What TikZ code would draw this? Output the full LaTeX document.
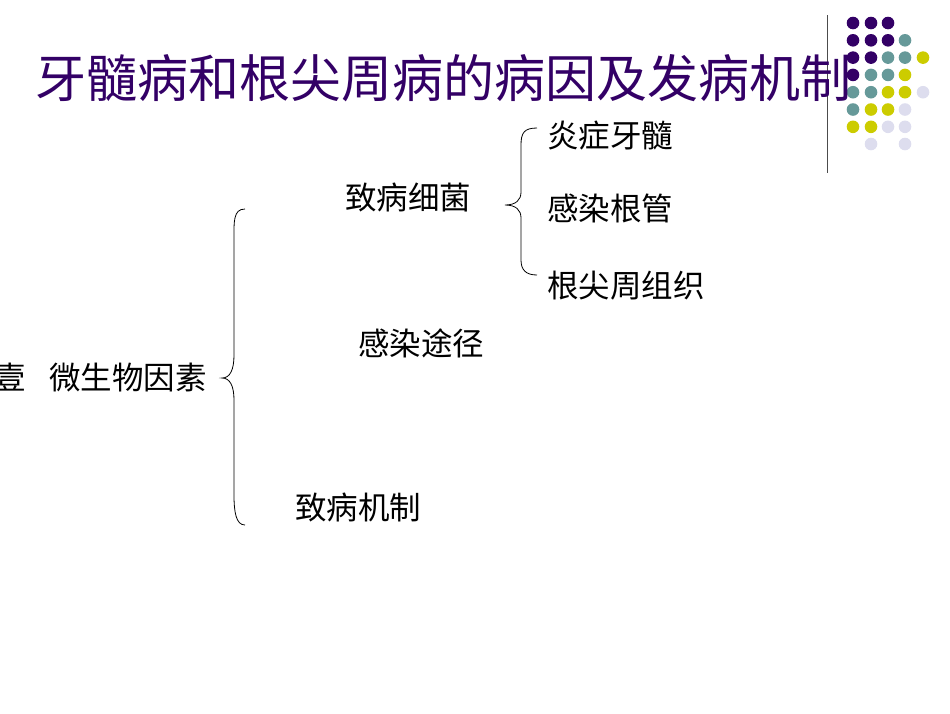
\documentclass[tikz,border=0pt]{standalone}
\usepackage{fontspec}
\newfontfamily\cjk{Noto Sans CJK SC}
\definecolor{pp}{HTML}{330066}
\definecolor{tl}{HTML}{669999}
\definecolor{yl}{HTML}{CCCC00}
\definecolor{lv}{HTML}{DDDDEE}
\begin{document}
\begin{tikzpicture}[x=1pt,y=-1pt,
  lbl/.style={font=\cjk\fontsize{31.5}{34}\selectfont,anchor=west,inner sep=0},
  br/.style={draw=black,line width=0.8pt}]
\useasboundingbox (0,0) rectangle (950,713);
\draw[line width=0.8pt,black!70] (827,15) -- (827,173);
\def\cx{{853,871,888,905,923}}
\foreach \r/\row in {0/{pp,pp,pp},1/{pp,pp,pp,tl},2/{pp,pp,tl,tl,yl},3/{pp,tl,tl,yl},4/{tl,tl,yl,yl,lv},5/{tl,yl,yl,lv},6/{yl,yl,lv,lv}}{
  \foreach \c [count=\i from 0] in \row {
    \pgfmathsetmacro\xx{\cx[\i]}
    \fill[\c] (\xx,23+17.3*\r) circle (6.3);
  }
}
\fill[lv] (871,144) circle (6.3);
\fill[lv] (905,144) circle (6.3);
\node[font=\cjk\fontsize{51}{54}\selectfont,text=pp,anchor=west,inner sep=0] (title) at (35,78) {牙髓病和根尖周病的病因及发病机制};
\node[lbl] (a) at (-6,378) {壹\hspace{0.75em}微生物因素};
\node[lbl] (b1) at (345,197) {致病细菌};
\node[lbl] (b2) at (358,343) {感染途径};
\node[lbl] (b3) at (295,508) {致病机制};
\node[lbl] (c1) at (547,136) {炎症牙髓};
\node[lbl] (c2) at (547,208) {感染根管};
\node[lbl] (c3) at (547,286) {根尖周组织};
\coordinate (B1) at (245,209); \coordinate (B2) at (245,525); \coordinate (Bt) at (222,378);
\draw[br] (B1) .. controls (233,209) and (234,222) .. (234,240) -- (234,355) .. controls (234,370) and (230,378) .. (Bt)
  .. controls (230,378) and (234,386) .. (234,400) -- (234,495) .. controls (234,512) and (236,525) .. (B2);
\coordinate (S1) at (537,128); \coordinate (S2) at (537,275); \coordinate (St) at (505,205);
\draw[br] (S1) .. controls (524,128) and (521,133) .. (521,145) -- (521,192) .. controls (521,200) and (516,205) .. (St)
  .. controls (516,205) and (521,210) .. (521,218) -- (521,260) .. controls (521,270) and (526,275) .. (S2);
\end{tikzpicture}
\end{document}
